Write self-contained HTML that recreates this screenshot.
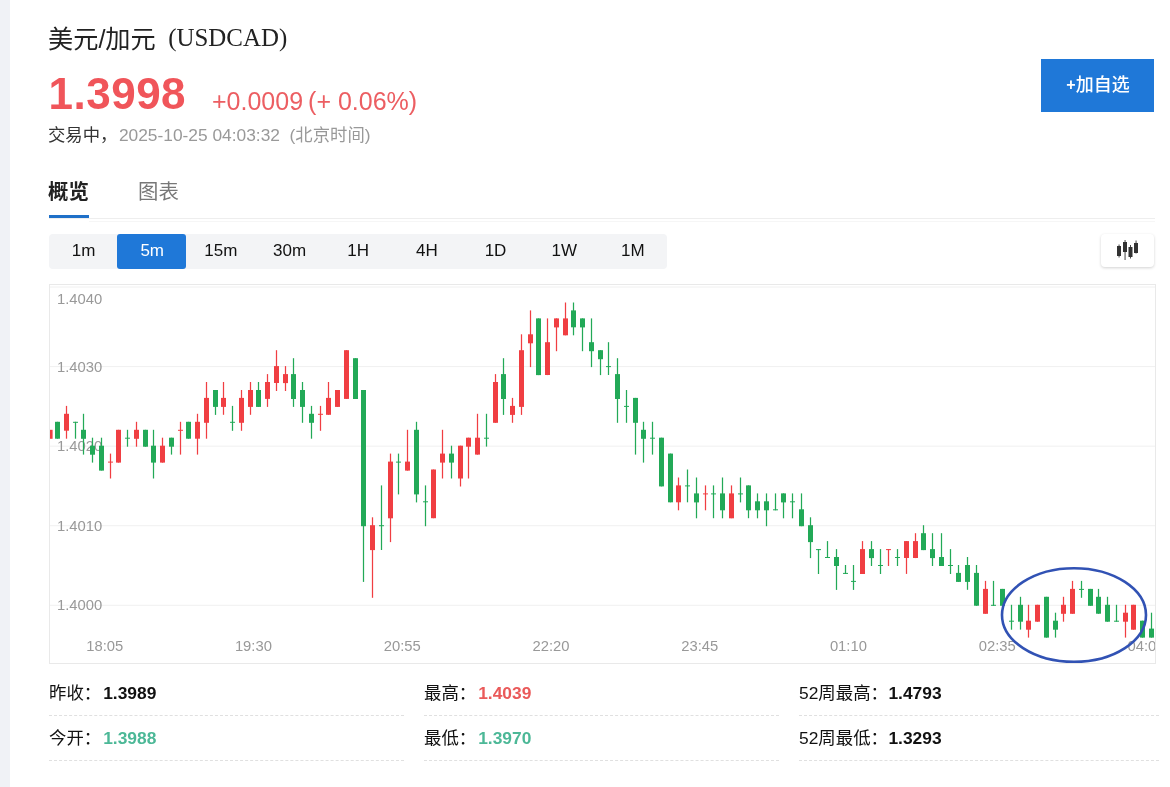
<!DOCTYPE html>
<html lang="zh-CN"><head><meta charset="utf-8"><title>美元/加元 (USDCAD)</title>
<style>
html,body{margin:0;padding:0;}
body{width:1170px;height:787px;position:relative;overflow:hidden;background:#fff;font-family:"Liberation Sans","Noto Sans CJK SC",sans-serif;color:#111;}
.abs{position:absolute;white-space:nowrap;line-height:1;}
#strip{left:0;top:0;width:10px;height:787px;background:#f0f2f6;}
#title{left:48px;top:26.9px;font-size:25.2px;color:#222;}
#title .code{font-family:"Liberation Serif",serif;font-size:24.9px;margin-left:12.5px;position:relative;top:-1.6px}
#price{left:48.5px;top:72px;font-size:44px;letter-spacing:0.5px;font-weight:bold;color:#f0555a;}
#chg{left:212px;top:88.5px;font-size:25px;color:#ec5e62;}#chg span{margin-left:5px}
#status{left:48px;top:126.5px;font-size:17.35px;color:#333;}
#status span{color:#999;margin-left:1.5px}
#addbtn{left:1041px;top:59px;width:113px;height:53px;background:#1f78d8;color:#fff;font-size:18px;font-weight:500;text-align:center;line-height:53.8px;text-indent:1px;}#addbtn b{font-size:16px;font-weight:bold;position:relative;top:-1px}
#tab1{left:48px;top:182px;font-size:20.4px;font-weight:bold;color:#222;}
#tab2{left:138px;top:182px;font-size:20.4px;color:#777;}
#tabline{left:49px;top:218px;width:1106px;height:1px;background:#eee;}
#tabul{left:49px;top:215px;width:40px;height:3px;background:#1f70c8;}#tabline2{left:89px;top:221px;width:1066px;height:1px;background:#f6f6f6;}
#tf{left:49px;top:234px;width:618px;height:35px;background:#f3f4f6;border-radius:4px;}
.tfb{top:234px;width:68.67px;height:35px;line-height:34.6px;text-indent:1.2px;text-align:center;font-size:17px;color:#111;}
.tfb.on{background:#1f78d8;color:#fff;border-radius:3px;}
#ibtn{left:1101px;top:234px;width:53px;height:33px;background:#fff;border-radius:4px;box-shadow:0 1px 3px rgba(0,0,0,.18);}
#chartbox{left:49px;top:284px;width:1105px;height:378px;border:1px solid #e9e9e9;}
svg{position:absolute;left:0;top:0;}
.row{font-size:17.4px;color:#111;}
.row b{font-weight:bold;margin-left:2px}
.dash{height:0;border-top:1px dashed #e0e0e0;width:355px;}
.red{color:#ea5a5a}.grn{color:#4cb897}
</style></head><body>
<div class="abs" id="strip"></div>
<div class="abs" id="title">美元/加元<span class="code">(USDCAD)</span></div>
<div class="abs" id="price">1.3998</div>
<div class="abs" id="chg">+0.0009<span>(+ 0.06%)</span></div>
<div class="abs" id="status">交易中，<span>2025-10-25 04:03:32&nbsp; (北京时间)</span></div>
<div class="abs" id="addbtn"><b>+</b>加自选</div>
<div class="abs" id="tab1">概览</div>
<div class="abs" id="tab2">图表</div>
<div class="abs" id="tabline"></div>
<div class="abs" id="tabul"></div><div class="abs" id="tabline2"></div>
<div class="abs" id="tf"></div>
<div class="abs tfb" style="left:48.60px">1m</div>
<div class="abs tfb on" style="left:117.27px">5m</div>
<div class="abs tfb" style="left:185.94px">15m</div>
<div class="abs tfb" style="left:254.61px">30m</div>
<div class="abs tfb" style="left:323.28px">1H</div>
<div class="abs tfb" style="left:391.95px">4H</div>
<div class="abs tfb" style="left:460.62px">1D</div>
<div class="abs tfb" style="left:529.29px">1W</div>
<div class="abs tfb" style="left:597.96px">1M</div>

<div class="abs" id="ibtn"></div>
<div class="abs" id="chartbox"></div>
<svg width="1170" height="787" viewBox="0 0 1170 787">
<defs><clipPath id="cc"><rect x="50" y="285" width="1105" height="378"/></clipPath></defs>
<g fill="#f0f0f0">
<rect x="50" y="286.56" width="1105" height="1"/>
<rect x="50" y="366.11" width="1105" height="1"/>
<rect x="50" y="445.66" width="1105" height="1"/>
<rect x="50" y="525.21" width="1105" height="1"/>
<rect x="50" y="604.76" width="1105" height="1"/>
</g>
<g clip-path="url(#cc)">
<g font-family="Liberation Sans, sans-serif" font-size="14.8" fill="#999">
<text x="57" y="304">1.4040</text>
<text x="57" y="372">1.4030</text>
<text x="57" y="451.4">1.4020</text>
<text x="57" y="531">1.4010</text>
<text x="57" y="610.4">1.4000</text>
<g text-anchor="middle">
<text x="104.7" y="651">18:05</text>
<text x="253.4" y="651">19:30</text>
<text x="402.2" y="651">20:55</text>
<text x="551" y="651">22:20</text>
<text x="699.7" y="651">23:45</text>
<text x="848.4" y="651">01:10</text>
<text x="997.2" y="651">02:35</text>
<text x="1146" y="651">04:00</text>
</g></g>
<rect x="47.88" y="429.8" width="1.24" height="9.0" fill="#f03e42"/>
<rect x="47.6" y="429.8" width="5" height="9.0" fill="#f03e42"/>
<rect x="56.88" y="421.8" width="1.24" height="16.9" fill="#22a957"/>
<rect x="55" y="421.8" width="5" height="16.9" fill="#22a957"/>
<rect x="65.88" y="405.9" width="1.24" height="32.8" fill="#f03e42"/>
<rect x="64" y="413.8" width="5" height="16.9" fill="#f03e42"/>
<rect x="74.88" y="421.8" width="1.24" height="16.9" fill="#22a957"/>
<rect x="73" y="421.8" width="5" height="1.0" fill="#22a957"/>
<rect x="82.88" y="413.8" width="1.24" height="40.8" fill="#22a957"/>
<rect x="81" y="429.8" width="5" height="9.0" fill="#22a957"/>
<rect x="91.88" y="437.7" width="1.24" height="24.9" fill="#22a957"/>
<rect x="90" y="445.7" width="5" height="9.0" fill="#22a957"/>
<rect x="100.88" y="437.7" width="1.24" height="32.8" fill="#22a957"/>
<rect x="99" y="445.7" width="5" height="24.9" fill="#22a957"/>
<rect x="109.88" y="453.6" width="1.24" height="24.9" fill="#f03e42"/>
<rect x="108" y="461.6" width="5" height="1.0" fill="#f03e42"/>
<rect x="117.88" y="429.8" width="1.24" height="32.8" fill="#f03e42"/>
<rect x="116" y="429.8" width="5" height="32.8" fill="#f03e42"/>
<rect x="126.88" y="429.8" width="1.24" height="16.9" fill="#22a957"/>
<rect x="125" y="437.7" width="5" height="1.0" fill="#22a957"/>
<rect x="135.88" y="421.8" width="1.24" height="24.9" fill="#f03e42"/>
<rect x="134" y="429.8" width="5" height="9.0" fill="#f03e42"/>
<rect x="144.88" y="429.8" width="1.24" height="16.9" fill="#22a957"/>
<rect x="143" y="429.8" width="5" height="16.9" fill="#22a957"/>
<rect x="152.88" y="429.8" width="1.24" height="48.7" fill="#22a957"/>
<rect x="151" y="445.7" width="5" height="16.9" fill="#22a957"/>
<rect x="161.88" y="437.7" width="1.24" height="24.9" fill="#f03e42"/>
<rect x="160" y="445.7" width="5" height="16.9" fill="#f03e42"/>
<rect x="170.88" y="437.7" width="1.24" height="16.9" fill="#22a957"/>
<rect x="169" y="437.7" width="5" height="9.0" fill="#22a957"/>
<rect x="179.88" y="421.8" width="1.24" height="32.8" fill="#f03e42"/>
<rect x="178" y="429.8" width="5" height="1.0" fill="#f03e42"/>
<rect x="187.88" y="421.8" width="1.24" height="16.9" fill="#22a957"/>
<rect x="186" y="421.8" width="5" height="16.9" fill="#22a957"/>
<rect x="196.88" y="413.8" width="1.24" height="40.8" fill="#f03e42"/>
<rect x="195" y="421.8" width="5" height="16.9" fill="#f03e42"/>
<rect x="205.88" y="382.0" width="1.24" height="56.7" fill="#f03e42"/>
<rect x="204" y="397.9" width="5" height="24.9" fill="#f03e42"/>
<rect x="214.88" y="390.0" width="1.24" height="24.9" fill="#22a957"/>
<rect x="213" y="390.0" width="5" height="16.9" fill="#22a957"/>
<rect x="222.88" y="382.0" width="1.24" height="32.8" fill="#f03e42"/>
<rect x="221" y="397.9" width="5" height="9.0" fill="#f03e42"/>
<rect x="231.88" y="405.9" width="1.24" height="24.9" fill="#22a957"/>
<rect x="230" y="421.8" width="5" height="1.0" fill="#22a957"/>
<rect x="240.88" y="390.0" width="1.24" height="40.8" fill="#f03e42"/>
<rect x="239" y="397.9" width="5" height="24.9" fill="#f03e42"/>
<rect x="249.88" y="382.0" width="1.24" height="32.8" fill="#f03e42"/>
<rect x="248" y="390.0" width="5" height="16.9" fill="#f03e42"/>
<rect x="257.88" y="382.0" width="1.24" height="24.9" fill="#22a957"/>
<rect x="256" y="390.0" width="5" height="16.9" fill="#22a957"/>
<rect x="266.88" y="374.1" width="1.24" height="32.8" fill="#f03e42"/>
<rect x="265" y="382.0" width="5" height="16.9" fill="#f03e42"/>
<rect x="275.88" y="350.2" width="1.24" height="40.8" fill="#f03e42"/>
<rect x="274" y="366.1" width="5" height="16.9" fill="#f03e42"/>
<rect x="284.88" y="366.1" width="1.24" height="24.9" fill="#f03e42"/>
<rect x="283" y="374.1" width="5" height="9.0" fill="#f03e42"/>
<rect x="292.88" y="358.2" width="1.24" height="48.7" fill="#22a957"/>
<rect x="291" y="374.1" width="5" height="24.9" fill="#22a957"/>
<rect x="301.88" y="382.0" width="1.24" height="40.8" fill="#22a957"/>
<rect x="300" y="390.0" width="5" height="16.9" fill="#22a957"/>
<rect x="310.88" y="405.9" width="1.24" height="32.8" fill="#22a957"/>
<rect x="309" y="413.8" width="5" height="9.0" fill="#22a957"/>
<rect x="319.88" y="405.9" width="1.24" height="24.9" fill="#f03e42"/>
<rect x="318" y="413.8" width="5" height="1.0" fill="#f03e42"/>
<rect x="327.88" y="382.0" width="1.24" height="32.8" fill="#f03e42"/>
<rect x="326" y="397.9" width="5" height="16.9" fill="#f03e42"/>
<rect x="336.88" y="390.0" width="1.24" height="16.9" fill="#f03e42"/>
<rect x="335" y="390.0" width="5" height="16.9" fill="#f03e42"/>
<rect x="345.88" y="350.2" width="1.24" height="48.7" fill="#f03e42"/>
<rect x="344" y="350.2" width="5" height="48.7" fill="#f03e42"/>
<rect x="354.88" y="358.2" width="1.24" height="40.8" fill="#22a957"/>
<rect x="353" y="358.2" width="5" height="40.8" fill="#22a957"/>
<rect x="362.88" y="390.0" width="1.24" height="191.9" fill="#22a957"/>
<rect x="361" y="390.0" width="5" height="136.2" fill="#22a957"/>
<rect x="371.88" y="517.3" width="1.24" height="80.5" fill="#f03e42"/>
<rect x="370" y="525.2" width="5" height="24.9" fill="#f03e42"/>
<rect x="380.88" y="485.4" width="1.24" height="64.6" fill="#22a957"/>
<rect x="379" y="525.2" width="5" height="1.0" fill="#22a957"/>
<rect x="389.88" y="453.6" width="1.24" height="88.5" fill="#f03e42"/>
<rect x="388" y="461.6" width="5" height="56.7" fill="#f03e42"/>
<rect x="397.88" y="453.6" width="1.24" height="40.8" fill="#22a957"/>
<rect x="396" y="461.6" width="5" height="1.0" fill="#22a957"/>
<rect x="406.88" y="429.8" width="1.24" height="40.8" fill="#f03e42"/>
<rect x="405" y="461.6" width="5" height="9.0" fill="#f03e42"/>
<rect x="415.88" y="421.8" width="1.24" height="80.6" fill="#22a957"/>
<rect x="414" y="429.8" width="5" height="64.6" fill="#22a957"/>
<rect x="424.88" y="485.4" width="1.24" height="40.8" fill="#22a957"/>
<rect x="423" y="501.3" width="5" height="1.0" fill="#22a957"/>
<rect x="432.88" y="469.5" width="1.24" height="48.7" fill="#f03e42"/>
<rect x="431" y="469.5" width="5" height="48.7" fill="#f03e42"/>
<rect x="441.88" y="429.8" width="1.24" height="48.7" fill="#f03e42"/>
<rect x="440" y="453.6" width="5" height="9.0" fill="#f03e42"/>
<rect x="450.88" y="445.7" width="1.24" height="32.8" fill="#22a957"/>
<rect x="449" y="453.6" width="5" height="9.0" fill="#22a957"/>
<rect x="459.88" y="445.7" width="1.24" height="40.8" fill="#f03e42"/>
<rect x="458" y="445.7" width="5" height="32.8" fill="#f03e42"/>
<rect x="467.88" y="437.7" width="1.24" height="40.8" fill="#f03e42"/>
<rect x="466" y="437.7" width="5" height="9.0" fill="#f03e42"/>
<rect x="476.88" y="413.8" width="1.24" height="40.8" fill="#f03e42"/>
<rect x="475" y="437.7" width="5" height="16.9" fill="#f03e42"/>
<rect x="485.88" y="413.8" width="1.24" height="32.8" fill="#22a957"/>
<rect x="484" y="437.7" width="5" height="1.0" fill="#22a957"/>
<rect x="494.88" y="374.1" width="1.24" height="48.7" fill="#f03e42"/>
<rect x="493" y="382.0" width="5" height="40.8" fill="#f03e42"/>
<rect x="502.88" y="358.2" width="1.24" height="56.7" fill="#22a957"/>
<rect x="501" y="374.1" width="5" height="24.9" fill="#22a957"/>
<rect x="511.88" y="397.9" width="1.24" height="24.9" fill="#f03e42"/>
<rect x="510" y="405.9" width="5" height="9.0" fill="#f03e42"/>
<rect x="520.88" y="334.3" width="1.24" height="80.6" fill="#f03e42"/>
<rect x="519" y="350.2" width="5" height="56.7" fill="#f03e42"/>
<rect x="529.88" y="310.4" width="1.24" height="56.7" fill="#f03e42"/>
<rect x="528" y="334.3" width="5" height="9.0" fill="#f03e42"/>
<rect x="537.88" y="318.4" width="1.24" height="56.7" fill="#22a957"/>
<rect x="536" y="318.4" width="5" height="56.7" fill="#22a957"/>
<rect x="546.88" y="318.4" width="1.24" height="56.7" fill="#f03e42"/>
<rect x="545" y="342.2" width="5" height="32.8" fill="#f03e42"/>
<rect x="555.88" y="318.4" width="1.24" height="32.8" fill="#f03e42"/>
<rect x="554" y="318.4" width="5" height="9.0" fill="#f03e42"/>
<rect x="564.88" y="302.5" width="1.24" height="32.8" fill="#f03e42"/>
<rect x="563" y="318.4" width="5" height="16.9" fill="#f03e42"/>
<rect x="572.88" y="302.5" width="1.24" height="32.8" fill="#22a957"/>
<rect x="571" y="310.4" width="5" height="16.9" fill="#22a957"/>
<rect x="581.88" y="318.4" width="1.24" height="32.8" fill="#22a957"/>
<rect x="580" y="318.4" width="5" height="9.0" fill="#22a957"/>
<rect x="590.88" y="318.4" width="1.24" height="48.7" fill="#22a957"/>
<rect x="589" y="342.2" width="5" height="9.0" fill="#22a957"/>
<rect x="599.88" y="350.2" width="1.24" height="24.9" fill="#22a957"/>
<rect x="598" y="350.2" width="5" height="9.0" fill="#22a957"/>
<rect x="607.88" y="342.2" width="1.24" height="32.8" fill="#22a957"/>
<rect x="606" y="366.1" width="5" height="1.0" fill="#22a957"/>
<rect x="616.88" y="358.2" width="1.24" height="64.6" fill="#22a957"/>
<rect x="615" y="374.1" width="5" height="24.9" fill="#22a957"/>
<rect x="625.88" y="390.0" width="1.24" height="32.8" fill="#22a957"/>
<rect x="624" y="405.9" width="5" height="1.0" fill="#22a957"/>
<rect x="634.88" y="397.9" width="1.24" height="56.7" fill="#22a957"/>
<rect x="633" y="397.9" width="5" height="24.9" fill="#22a957"/>
<rect x="642.88" y="421.8" width="1.24" height="40.8" fill="#22a957"/>
<rect x="641" y="429.8" width="5" height="9.0" fill="#22a957"/>
<rect x="651.88" y="421.8" width="1.24" height="32.8" fill="#22a957"/>
<rect x="650" y="437.7" width="5" height="1.0" fill="#22a957"/>
<rect x="660.88" y="437.7" width="1.24" height="48.7" fill="#22a957"/>
<rect x="659" y="437.7" width="5" height="48.7" fill="#22a957"/>
<rect x="669.88" y="453.6" width="1.24" height="48.7" fill="#22a957"/>
<rect x="668" y="453.6" width="5" height="48.7" fill="#22a957"/>
<rect x="677.88" y="477.5" width="1.24" height="32.8" fill="#f03e42"/>
<rect x="676" y="485.4" width="5" height="16.9" fill="#f03e42"/>
<rect x="686.88" y="469.5" width="1.24" height="32.8" fill="#22a957"/>
<rect x="685" y="485.4" width="5" height="1.0" fill="#22a957"/>
<rect x="695.88" y="477.5" width="1.24" height="40.8" fill="#22a957"/>
<rect x="694" y="493.4" width="5" height="9.0" fill="#22a957"/>
<rect x="704.88" y="485.4" width="1.24" height="24.9" fill="#f03e42"/>
<rect x="703" y="493.4" width="5" height="1.0" fill="#f03e42"/>
<rect x="712.88" y="485.4" width="1.24" height="32.8" fill="#22a957"/>
<rect x="711" y="493.4" width="5" height="1.0" fill="#22a957"/>
<rect x="721.88" y="477.5" width="1.24" height="40.8" fill="#22a957"/>
<rect x="720" y="493.4" width="5" height="16.9" fill="#22a957"/>
<rect x="730.88" y="485.4" width="1.24" height="32.8" fill="#f03e42"/>
<rect x="729" y="493.4" width="5" height="24.9" fill="#f03e42"/>
<rect x="739.88" y="477.5" width="1.24" height="24.9" fill="#22a957"/>
<rect x="738" y="493.4" width="5" height="1.0" fill="#22a957"/>
<rect x="747.88" y="485.4" width="1.24" height="32.8" fill="#22a957"/>
<rect x="746" y="485.4" width="5" height="24.9" fill="#22a957"/>
<rect x="756.88" y="493.4" width="1.24" height="24.9" fill="#22a957"/>
<rect x="755" y="501.3" width="5" height="9.0" fill="#22a957"/>
<rect x="765.88" y="493.4" width="1.24" height="32.8" fill="#22a957"/>
<rect x="764" y="501.3" width="5" height="9.0" fill="#22a957"/>
<rect x="774.88" y="493.4" width="1.24" height="16.9" fill="#22a957"/>
<rect x="773" y="509.3" width="5" height="1.0" fill="#22a957"/>
<rect x="782.88" y="493.4" width="1.24" height="24.9" fill="#22a957"/>
<rect x="781" y="493.4" width="5" height="9.0" fill="#22a957"/>
<rect x="791.88" y="493.4" width="1.24" height="24.9" fill="#22a957"/>
<rect x="790" y="501.3" width="5" height="1.0" fill="#22a957"/>
<rect x="800.88" y="493.4" width="1.24" height="32.8" fill="#22a957"/>
<rect x="799" y="509.3" width="5" height="16.9" fill="#22a957"/>
<rect x="809.88" y="517.3" width="1.24" height="40.8" fill="#22a957"/>
<rect x="808" y="525.2" width="5" height="16.9" fill="#22a957"/>
<rect x="817.88" y="549.1" width="1.24" height="24.9" fill="#22a957"/>
<rect x="816" y="549.1" width="5" height="1.0" fill="#22a957"/>
<rect x="826.88" y="541.1" width="1.24" height="16.9" fill="#22a957"/>
<rect x="825" y="557.0" width="5" height="1.0" fill="#22a957"/>
<rect x="835.88" y="549.1" width="1.24" height="40.8" fill="#22a957"/>
<rect x="834" y="557.0" width="5" height="9.0" fill="#22a957"/>
<rect x="844.88" y="565.0" width="1.24" height="9.0" fill="#22a957"/>
<rect x="843" y="572.9" width="5" height="1.0" fill="#22a957"/>
<rect x="852.88" y="565.0" width="1.24" height="24.9" fill="#22a957"/>
<rect x="851" y="580.9" width="5" height="1.0" fill="#22a957"/>
<rect x="861.88" y="541.1" width="1.24" height="32.8" fill="#f03e42"/>
<rect x="860" y="549.1" width="5" height="24.9" fill="#f03e42"/>
<rect x="870.88" y="541.1" width="1.24" height="24.9" fill="#22a957"/>
<rect x="869" y="549.1" width="5" height="9.0" fill="#22a957"/>
<rect x="879.88" y="549.1" width="1.24" height="24.9" fill="#22a957"/>
<rect x="878" y="565.0" width="5" height="1.0" fill="#22a957"/>
<rect x="887.88" y="549.1" width="1.24" height="16.9" fill="#f03e42"/>
<rect x="886" y="549.1" width="5" height="1.0" fill="#f03e42"/>
<rect x="896.88" y="549.1" width="1.24" height="16.9" fill="#22a957"/>
<rect x="895" y="557.0" width="5" height="1.0" fill="#22a957"/>
<rect x="905.88" y="541.1" width="1.24" height="32.8" fill="#f03e42"/>
<rect x="904" y="541.1" width="5" height="16.9" fill="#f03e42"/>
<rect x="914.88" y="533.2" width="1.24" height="24.9" fill="#f03e42"/>
<rect x="913" y="541.1" width="5" height="16.9" fill="#f03e42"/>
<rect x="922.88" y="525.2" width="1.24" height="24.9" fill="#22a957"/>
<rect x="921" y="533.2" width="5" height="16.9" fill="#22a957"/>
<rect x="931.88" y="533.2" width="1.24" height="32.8" fill="#22a957"/>
<rect x="930" y="549.1" width="5" height="9.0" fill="#22a957"/>
<rect x="940.88" y="533.2" width="1.24" height="32.8" fill="#22a957"/>
<rect x="939" y="557.0" width="5" height="9.0" fill="#22a957"/>
<rect x="949.88" y="549.1" width="1.24" height="24.9" fill="#22a957"/>
<rect x="948" y="565.0" width="5" height="1.0" fill="#22a957"/>
<rect x="957.88" y="565.0" width="1.24" height="16.9" fill="#22a957"/>
<rect x="956" y="572.9" width="5" height="9.0" fill="#22a957"/>
<rect x="966.88" y="557.0" width="1.24" height="32.8" fill="#22a957"/>
<rect x="965" y="565.0" width="5" height="16.9" fill="#22a957"/>
<rect x="975.88" y="565.0" width="1.24" height="40.8" fill="#22a957"/>
<rect x="974" y="572.9" width="5" height="32.8" fill="#22a957"/>
<rect x="984.88" y="580.9" width="1.24" height="32.8" fill="#f03e42"/>
<rect x="983" y="588.9" width="5" height="24.9" fill="#f03e42"/>
<rect x="992.88" y="580.9" width="1.24" height="24.9" fill="#22a957"/>
<rect x="991" y="604.8" width="5" height="1.0" fill="#22a957"/>
<rect x="1001.88" y="588.9" width="1.24" height="16.9" fill="#22a957"/>
<rect x="1000" y="588.9" width="5" height="16.9" fill="#22a957"/>
<rect x="1010.88" y="604.8" width="1.24" height="24.9" fill="#22a957"/>
<rect x="1009" y="620.7" width="5" height="1.0" fill="#22a957"/>
<rect x="1019.88" y="596.8" width="1.24" height="32.8" fill="#22a957"/>
<rect x="1018" y="604.8" width="5" height="16.9" fill="#22a957"/>
<rect x="1027.88" y="604.8" width="1.24" height="32.8" fill="#f03e42"/>
<rect x="1026" y="620.7" width="5" height="9.0" fill="#f03e42"/>
<rect x="1036.88" y="604.8" width="1.24" height="16.9" fill="#f03e42"/>
<rect x="1035" y="604.8" width="5" height="16.9" fill="#f03e42"/>
<rect x="1045.88" y="596.8" width="1.24" height="40.8" fill="#22a957"/>
<rect x="1044" y="596.8" width="5" height="40.8" fill="#22a957"/>
<rect x="1054.88" y="612.7" width="1.24" height="24.9" fill="#22a957"/>
<rect x="1053" y="620.7" width="5" height="9.0" fill="#22a957"/>
<rect x="1062.88" y="596.8" width="1.24" height="24.9" fill="#f03e42"/>
<rect x="1061" y="604.8" width="5" height="9.0" fill="#f03e42"/>
<rect x="1071.88" y="580.9" width="1.24" height="32.8" fill="#f03e42"/>
<rect x="1070" y="588.9" width="5" height="24.9" fill="#f03e42"/>
<rect x="1080.88" y="580.9" width="1.24" height="16.9" fill="#22a957"/>
<rect x="1079" y="588.9" width="5" height="1.0" fill="#22a957"/>
<rect x="1089.88" y="588.9" width="1.24" height="16.9" fill="#22a957"/>
<rect x="1088" y="588.9" width="5" height="16.9" fill="#22a957"/>
<rect x="1097.88" y="588.9" width="1.24" height="24.9" fill="#22a957"/>
<rect x="1096" y="596.8" width="5" height="16.9" fill="#22a957"/>
<rect x="1106.88" y="596.8" width="1.24" height="24.9" fill="#22a957"/>
<rect x="1105" y="604.8" width="5" height="16.9" fill="#22a957"/>
<rect x="1115.88" y="604.8" width="1.24" height="16.9" fill="#22a957"/>
<rect x="1114" y="620.7" width="5" height="1.0" fill="#22a957"/>
<rect x="1124.88" y="604.8" width="1.24" height="32.8" fill="#f03e42"/>
<rect x="1123" y="612.7" width="5" height="9.0" fill="#f03e42"/>
<rect x="1132.88" y="604.8" width="1.24" height="24.9" fill="#f03e42"/>
<rect x="1131" y="604.8" width="5" height="24.9" fill="#f03e42"/>
<rect x="1141.88" y="620.7" width="1.24" height="16.9" fill="#22a957"/>
<rect x="1140" y="620.7" width="5" height="16.9" fill="#22a957"/>
<rect x="1150.88" y="612.7" width="1.24" height="24.9" fill="#22a957"/>
<rect x="1149" y="628.6" width="5" height="9.0" fill="#22a957"/>
</g>
<ellipse cx="1074" cy="615" rx="72" ry="46.8" fill="none" stroke="#3152b4" stroke-width="2.6"/>
<g fill="#333">
<rect x="1117" y="246" width="4" height="10"/><rect x="1118.6" y="244.5" width="0.9" height="13"/>
<rect x="1123" y="242" width="4" height="10"/><rect x="1124.6" y="240" width="0.9" height="20"/>
<rect x="1128.5" y="247" width="4" height="10"/><rect x="1130" y="245" width="0.9" height="13.5"/>
<rect x="1134" y="243" width="4" height="10"/><rect x="1135.6" y="240.5" width="0.9" height="13"/>
</g>
</svg>
<div class="abs row" style="left:49px;top:681.8px;line-height:23px">昨收：<b class="" style="margin-left:2px">1.3989</b></div>
<div class="abs dash" style="left:49px;top:715px;width:355px"></div>
<div class="abs row" style="left:424px;top:681.8px;line-height:23px">最高：<b class="red" style="margin-left:2px">1.4039</b></div>
<div class="abs dash" style="left:424px;top:715px;width:355px"></div>
<div class="abs row" style="left:799px;top:681.8px;line-height:23px">52周最高：<b class="" style="margin-left:0.5px">1.4793</b></div>
<div class="abs dash" style="left:799px;top:715px;width:360px"></div>
<div class="abs row" style="left:49px;top:726.8px;line-height:23px">今开：<b class="grn" style="margin-left:2px">1.3988</b></div>
<div class="abs dash" style="left:49px;top:760px;width:355px"></div>
<div class="abs row" style="left:424px;top:726.8px;line-height:23px">最低：<b class="grn" style="margin-left:2px">1.3970</b></div>
<div class="abs dash" style="left:424px;top:760px;width:355px"></div>
<div class="abs row" style="left:799px;top:726.8px;line-height:23px">52周最低：<b class="" style="margin-left:0.5px">1.3293</b></div>
<div class="abs dash" style="left:799px;top:760px;width:360px"></div>

</body></html>
